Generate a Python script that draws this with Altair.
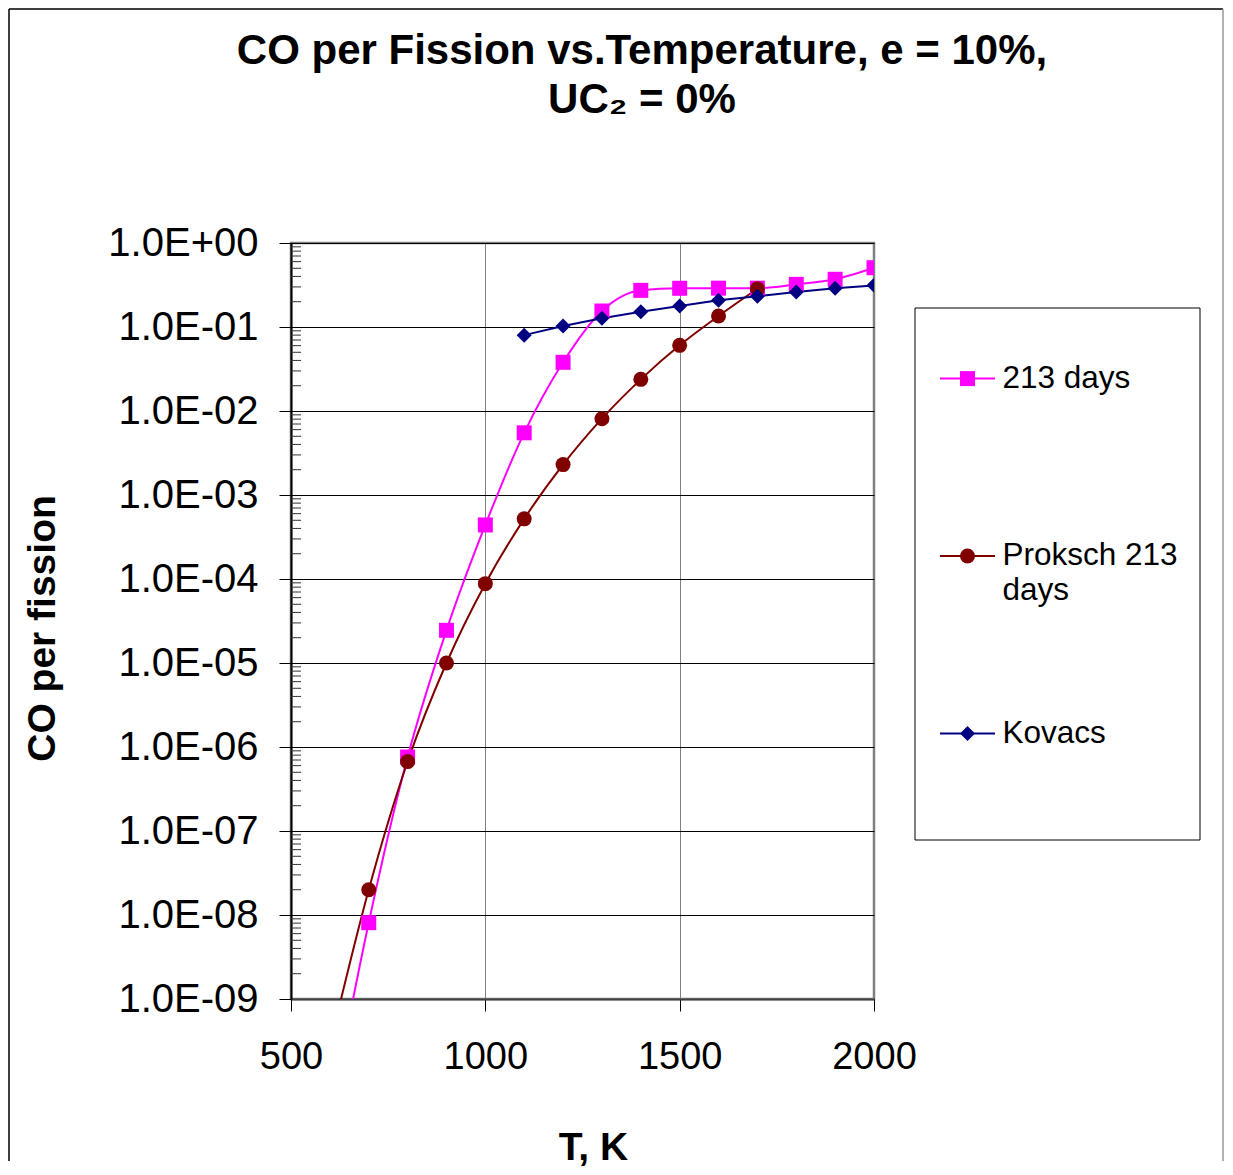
import altair as alt
import pandas as pd

# ---------------- data ----------------
series_names = ["213 days", "Proksch 213 days", "Kovacs"]

temps_213 = [600, 700, 800, 900, 1000, 1100, 1200, 1300, 1400, 1500, 1600, 1700, 1800, 1900, 2000]
co_213 = [3.8e-11, 8.1e-9, 7.6e-7, 2.45e-5, 4.4e-4, 5.5e-3, 3.8e-2, 0.155, 0.273, 0.289,
          0.29, 0.29, 0.322, 0.37, 0.508]

temps_proksch = [600, 700, 800, 900, 1000, 1100, 1200, 1300, 1400, 1500, 1600, 1700]
co_proksch = [2.8e-10, 2.0e-8, 6.7e-7, 1.0e-5, 8.8e-5, 5.2e-4, 2.3e-3, 8.1e-3, 2.38e-2, 6.05e-2,
              0.135, 0.285]

temps_kovacs = [1100, 1200, 1300, 1400, 1500, 1600, 1700, 1800, 1900, 2000]
co_kovacs = [0.080, 0.103, 0.127, 0.152, 0.178, 0.208, 0.232, 0.261, 0.289, 0.313]

x_ticks = [500, 1000, 1500, 2000]
y_decades = [1e-9, 1e-8, 1e-7, 1e-6, 1e-5, 1e-4, 1e-3, 1e-2, 1e-1, 1.0]
minor_mults = [2, 3, 4, 5, 6, 7, 8, 9]

title_lines = ["CO per Fission vs.Temperature, e = 10%,", "UC\u2082 = 0%"]
x_title = "T, K"
y_title = "CO per fission"

# ---------------- tables ----------------
df = pd.concat([
    pd.DataFrame({"series": series_names[0], "T": temps_213, "co": co_213}),
    pd.DataFrame({"series": series_names[1], "T": temps_proksch, "co": co_proksch}),
    pd.DataFrame({"series": series_names[2], "T": temps_kovacs, "co": co_kovacs}),
], ignore_index=True)

minor_df = pd.DataFrame({"co": [m * d for d in y_decades[:-1] for m in minor_mults]})
one = pd.DataFrame({"k": [0]})

FONT = "Liberation Sans"
W, H = 583, 756
colors = ["#FF00FF", "#800000", "#000080"]
shapes = ["square", "circle", "diamond"]
interps = ["monotone", "monotone", "linear"]

x_scale = alt.Scale(domain=[500, 2000], nice=False, zero=False)
y_scale = alt.Scale(type="log", domain=[1e-9, 1.0], nice=False)

X = alt.X("T:Q", scale=x_scale, axis=alt.Axis(
    values=x_ticks, title=x_title, format="d",
    labelFont=FONT, labelFontSize=38, labelColor="black", labelPadding=27,
    labelFlush=False, labelOverlap=False,
    tickSize=12, tickColor="black", tickWidth=1,
    domainColor="#404040", domainWidth=2,
    grid=True, gridColor="#808080", gridWidth=1,
    titleFont=FONT, titleFontSize=39, titleFontWeight="bold", titleColor="black",
    titleX=302, titleY=160, titleBaseline="alphabetic", titleAlign="center"))

Y = alt.Y("co:Q", scale=y_scale, axis=alt.Axis(
    values=y_decades, title=y_title,
    labelExpr="'1.0E' + (datum.value >= 1 ? '+00' : '-0' + format(round(-log(datum.value)/LN10), 'd'))",
    labelFont=FONT, labelFontSize=40, labelColor="black", labelPadding=21,
    labelFlush=False, labelOverlap=False,
    tickSize=12, tickColor="black", tickWidth=1,
    domainColor="black", domainWidth=2,
    grid=True, gridColor="black", gridWidth=1,
    titleFont=FONT, titleFontSize=39, titleFontWeight="bold", titleColor="black",
    titleX=-237, titleY=385, titleAngle=270, titleBaseline="alphabetic", titleAlign="center"))

layers = []

# minor ticks on the log axis (inside the plot)
layers.append(alt.Chart(minor_df).mark_rule(color="#333333", strokeWidth=1).encode(
    x=alt.value(0), x2=alt.value(10), y=Y))

base = alt.Chart(df)
for name, col, shp, itp in zip(series_names, colors, shapes, interps):
    d = base.transform_filter(alt.datum.series == name)
    layers.append(d.mark_line(color=col, strokeWidth=2, interpolate=itp, clip=True).encode(x=X, y=Y))
for name, col, shp, itp in zip(series_names, colors, shapes, interps):
    d = base.transform_filter(alt.datum.series == name)
    layers.append(d.mark_point(shape=shp, filled=True, size=225, color=col, opacity=1,
                               clip=True).encode(x=X, y=Y))

# ---------------- legend (drawn box at the right) ----------------
layers.append(alt.Chart(one).mark_rect(fill="white", stroke="black", strokeWidth=1).encode(
    x=alt.value(624), x2=alt.value(909), y=alt.value(65), y2=alt.value(597)))
leg_y = [135.6, 313, 490.5]
for name, col, shp, ly in zip(series_names, colors, shapes, leg_y):
    layers.append(alt.Chart(one).mark_rule(color=col, strokeWidth=2).encode(
        x=alt.value(649), x2=alt.value(704), y=alt.value(ly)))
    layers.append(alt.Chart(one).mark_point(shape=shp, filled=True, size=225, color=col, opacity=1).encode(
        x=alt.value(676.5), y=alt.value(ly)))
    if name == "Proksch 213 days":
        parts = [" ".join(name.split(" ")[:2]), name.split(" ")[2]]
    else:
        parts = [name]
    for i, p in enumerate(parts):
        layers.append(alt.Chart(one).mark_text(text=p, font=FONT, fontSize=31.5, color="black",
                                               align="left", baseline="middle").encode(
            x=alt.value(711.5), y=alt.value(ly + 35 * i)))

# ---------------- title ----------------
for line, by in zip(title_lines, [-179.3, -130.3]):
    layers.append(alt.Chart(one).mark_text(text=line, font=FONT, fontSize=42, fontWeight="bold",
                                           color="black", align="center", baseline="alphabetic").encode(
        x=alt.value(351), y=alt.value(by)))

# ---------------- outer chart-area border ----------------
layers.append(alt.Chart(one).mark_rule(color="black", strokeWidth=1.5).encode(
    x=alt.value(-282), y=alt.value(-234), y2=alt.value(918)))
layers.append(alt.Chart(one).mark_rule(color="black", strokeWidth=1.5).encode(
    x=alt.value(-282), x2=alt.value(932), y=alt.value(-234)))
layers.append(alt.Chart(one).mark_rule(color="#999999", strokeWidth=1.5).encode(
    x=alt.value(932), y=alt.value(-234), y2=alt.value(918)))

chart = alt.layer(*layers).properties(
    width=W, height=H, padding=0, background="white"
).configure_view(stroke="#808080", strokeWidth=2.5)

chart.save("out.html", embed_options={"renderer": "svg", "actions": False})
